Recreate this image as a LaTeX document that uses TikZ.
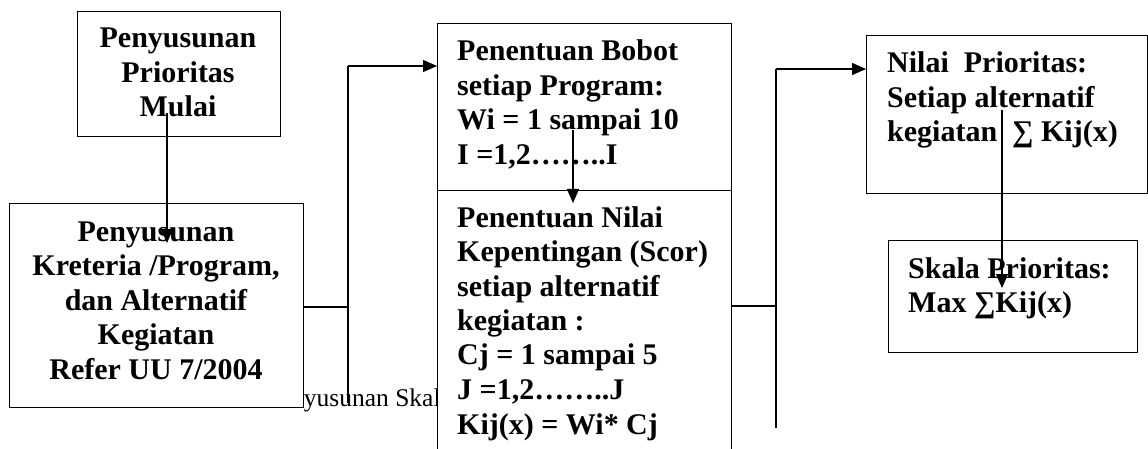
\documentclass[tikz,border=0pt]{standalone}
\usepackage{fontspec}
\setmainfont{Liberation Serif}
\usetikzlibrary{arrows.meta}
\begin{document}
\begin{tikzpicture}[x=1pt,y=-1pt,
  box/.style={draw=black, fill=white, line width=1.3pt, inner sep=0pt, anchor=north west},
  txt/.style={inner sep=0pt, font=\fontsize{30}{34.5}\selectfont\bfseries},
  captxt/.style={inner sep=0pt, anchor=base west, font=\fontsize{25.5}{28}\selectfont},
  conn/.style={line width=1.3pt},
  arr/.style={line width=1.3pt, -{Triangle[length=14pt,width=12pt]}}]
\useasboundingbox (0,0) rectangle (1148,449);
% caption, partly hidden behind the boxes
\node[captxt] (caption) at (291,406) {nyusunan Skala};
% boxes
\node[box, minimum width=203pt, minimum height=125pt] (b1) at (77,11) {};
\node[box, minimum width=294pt, minimum height=204pt] (b2) at (9,203) {};
\node[box, minimum width=294pt, minimum height=167pt] (b3) at (437,23) {};
\node[box, minimum width=294pt, minimum height=290pt] (b4) at (437,190) {};
\node[box, minimum width=281pt, minimum height=158pt] (b5) at (866,35) {};
\node[box, minimum width=249pt, minimum height=112pt] (b6) at (888,240) {};
% texts
\node[txt, anchor=base] (t1) at (178,48) {\begin{tabular}[t]{@{}c@{}}Penyusunan\\Prioritas\\Mulai\end{tabular}};
\node[txt, anchor=base] (t2) at (156,241) {\begin{tabular}[t]{@{}c@{}}Penyusunan\\Kreteria /Program,\\dan Alternatif\\Kegiatan\\Refer UU 7/2004\end{tabular}};
\node[txt, anchor=base west] (t3) at (457,61) {\begin{tabular}[t]{@{}l@{}}Penentuan Bobot\\setiap Program:\\Wi = 1 sampai 10\\I =1,2……..I\end{tabular}};
\node[txt, anchor=base west] (t4) at (457,227) {\begin{tabular}[t]{@{}l@{}}Penentuan Nilai\\Kepentingan (Scor)\\setiap alternatif\\kegiatan :\\Cj = 1 sampai 5\\J =1,2……..J\\Kij(x) = Wi* Cj\end{tabular}};
\node[txt, anchor=base west] (t5) at (887,73) {\begin{tabular}[t]{@{}l@{}}Nilai~ Prioritas:\\Setiap alternatif\\kegiatan~ ∑ Kij(x)\end{tabular}};
\node[txt, anchor=base west] (t6) at (908,278) {\begin{tabular}[t]{@{}l@{}}Skala Prioritas:\\Max ∑Kij(x)\end{tabular}};
% connector coordinates
\coordinate (s1) at (167,113);
\coordinate (e1) at (167,243);
\coordinate (j1) at (348,307);
\coordinate (j1t) at (348,66);
\coordinate (j1b) at (348,403);
\coordinate (s3) at (573,130);
\coordinate (e3) at (573,203);
\coordinate (j2) at (776,306);
\coordinate (j2t) at (776,69);
\coordinate (j2b) at (776,428);
\coordinate (s5) at (1002,110);
\coordinate (e5) at (1002,288);
% connectors
\draw[arr] (s1) -- (e1);
\draw[conn] (b2.east |- j1) -- (j1);
\draw[conn] (j1t) -- (j1b);
\draw[arr] (j1t) -- (b3.west |- j1t);
\draw[arr] (s3) -- (e3);
\draw[conn] (b4.east |- j2) -- (j2);
\draw[conn] (j2t) -- (j2b);
\draw[arr] (j2t) -- (b5.west |- j2t);
\draw[arr] (s5) -- (e5);
\end{tikzpicture}
\end{document}
